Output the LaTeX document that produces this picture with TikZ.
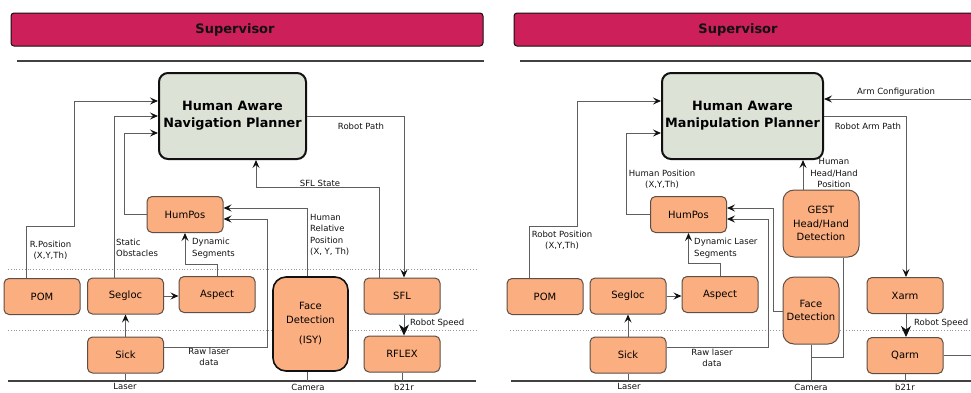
\documentclass[tikz,border=0pt]{standalone}
\usepackage{fontspec}
\setmainfont{DejaVu Sans}
\usetikzlibrary{arrows.meta,positioning,calc}
\definecolor{Ink}{HTML}{111111}
\definecolor{Wire}{HTML}{5E5E5E}
\definecolor{Edge}{HTML}{5E4E44}
\definecolor{SupRed}{HTML}{CD1F59}
\definecolor{PlanGrey}{HTML}{DCE3D6}
\definecolor{ModOrange}{HTML}{FBAE7F}
\definecolor{Dots}{HTML}{9A9A9A}

\begin{document}
\begin{tikzpicture}[
  x=1pt, y=-1pt,
  supbar/.style={draw=Ink, line width=1pt, fill=SupRed, rounded corners=3pt, minimum width=472pt, minimum height=33pt, inner sep=0pt},
  suptext/.style={font=\fontsize{13}{16}\selectfont\bfseries, text=Ink, inner sep=0pt},
  planner/.style={draw=Ink, line width=2pt, fill=PlanGrey, rounded corners=9pt, minimum height=86pt, align=center, inner sep=0pt, font=\fontsize{12.8}{17}\selectfont\bfseries},
  module/.style={draw=Edge, line width=1pt, fill=ModOrange, rounded corners=5pt, minimum width=76pt, minimum height=36pt, inner sep=0pt, align=center, font=\fontsize{10}{13.5}\selectfont},
  tallmod/.style={module, rounded corners=11pt},
  lbl/.style={font=\fontsize{8.5}{11.3}\selectfont, text=Ink, inner sep=0pt, align=left},
  rule/.style={draw=Ink!80, line width=1.2pt},
  sep/.style={draw=Dots, dotted, line width=0.8pt},
  link/.style={draw=Wire, line width=1pt},
  arr/.style={link, -{Stealth[length=8pt, width=7pt, inset=3pt, color=Ink]}},
  bigarr/.style={link, -{Stealth[length=11pt, width=10pt, inset=3.5pt, color=Ink]}}
]
\useasboundingbox (0,0) rectangle (971,392);

% separators
\draw[sep] (8,269) -- (476,269);
\draw[sep] (8,330) -- (476,330);
\draw[sep] (510,330) -- (971,330);
\coordinate (BaseL) at (8,381);
\coordinate (BaseR) at (511,381);
\draw[rule] (BaseL) -- (476,381);
\draw[rule] (BaseR) -- (971,381);

% navigation
\node[supbar] (SupL) at (247,29.5) {};
\node[suptext, xshift=-12pt] (SupLtxt) at (SupL) {Supervisor};
\draw[rule] (17,61) -- (484,61);

\node[planner, minimum width=147pt] (NavPlan) at (232.5,116) {Human Aware\\Navigation Planner};
\node[module] (PomL) at (42,296.5) {POM};
\node[module] (SeglocL) at (125.5,296) {Segloc};
\node[module, below=22pt of SeglocL] (SickL) {Sick};
\node[module] (AspectL) at (217,294.5) {Aspect};
\node[module] (HumPosL) at (185,214.5) {HumPos};
\node[tallmod, draw=Ink, line width=1.6pt, rounded corners=13pt, minimum width=75pt, minimum height=94pt] (FaceL) at (310.5,324) {Face\\Detection\\[7pt](ISY)};
\node[module] (SflL) at (402,296) {SFL};
\node[module, below=21pt of SflL] (RflexL) {RFLEX};

\draw[arr] ([xshift=-16pt]PomL.north) |- (74,226) |- ([yshift=15pt]NavPlan.west);
\draw[arr] ([xshift=-11.5pt]SeglocL.north) |- (NavPlan.west);
\draw[arr] (HumPosL.west) -- ++(-22,0) |- ([yshift=-17pt]NavPlan.west);
\draw[arr] (AspectL.north) -- ++(0,-12) -| (HumPosL.south);
\draw[arr] ([xshift=-3.5pt]FaceL.north) |- ([yshift=6.5pt]HumPosL.east);
\draw[arr] ([yshift=7.5pt]SickL.east) -- ++(103,0) |- ([yshift=-4.5pt]HumPosL.east);
\draw[arr] (SeglocL.east) -- (SeglocL.east -| AspectL.west);
\draw[arr] (SickL.north) -- (SeglocL.south);
\draw[arr] (NavPlan.east) -| ([xshift=2pt]SflL.north);
\draw[arr] ([xshift=-23pt]SflL.north) -- ++(0,-90) -| ([xshift=23.5pt]NavPlan.south);
\draw[bigarr] ([xshift=2pt]SflL.south) -- ([xshift=2pt]SflL.south |- RflexL.north);
\draw[link] (SickL.south) -- (SickL.south |- BaseL);
\draw[link] ([xshift=-3.5pt]FaceL.south) -- ([xshift=-3.5pt]FaceL.south |- BaseL);
\draw[link] (RflexL.south) -- (RflexL.south |- BaseL);

\node[lbl, align=center] (RPosL) at (50.5,250) {R.Position\\(X,Y,Th)};
\node[lbl, anchor=west] (StatObs) at (116,248) {Static\\Obstacles};
\node[lbl, anchor=west] (DynSegL) at (192,248) {Dynamic\\Segments};
\node[lbl, anchor=west] (HumRel) at (310,235) {Human\\Relative\\Position\\(X, Y, Th)};
\node[lbl, align=center] (RawL) at (209,356.5) {Raw laser\\data};
\node[lbl] (SflState) at (320,183) {SFL State};
\node[lbl] (RobPath) at (361,126) {Robot Path};
\node[lbl, anchor=west] (SpeedL) at (410,323) {Robot Speed};
\node[lbl, anchor=north] (LaserL) at (125,383.5) {Laser};
\node[lbl, anchor=north] (CamL) at (308,383.5) {Camera};
\node[lbl, anchor=north] (RobL) at (404,383.5) {b21r};

% manipulation
\node[supbar] (SupR) at (750,29.5) {};
\node[suptext, xshift=-12pt] (SupRtxt) at (SupR) {Supervisor};
\draw[rule] (520,61) -- (971,61);

\node[planner, minimum width=161pt] (ManPlan) at (742.5,116) {Human Aware\\Manipulation Planner};
\node[module] (PomR) at (545,296.5) {POM};
\node[module] (SeglocR) at (628,296) {Segloc};
\node[module, below=22pt of SeglocR] (SickR) {Sick};
\node[module] (AspectR) at (720,294.5) {Aspect};
\node[module] (HumPosR) at (688.5,214.5) {HumPos};
\node[tallmod, minimum height=67pt] (Gest) at (821,223.5) {GEST\\Head/Hand\\Detection};
\node[tallmod, minimum width=56pt, minimum height=67pt] (FaceR) at (811,310.5) {Face\\Detection};
\node[module] (Xarm) at (905,295.5) {Xarm};
\node[module, below=23pt of Xarm] (Qarm) {Qarm};
\coordinate (ArmIn) at (971,99);
\coordinate (QarmOut) at (971,354);
\coordinate (CamJoin) at ($(FaceR.south)+(0,13)$);

\draw[arr] ([xshift=-16pt]PomR.north) |- (577,226) |- ([yshift=15pt]ManPlan.west);
\draw[arr] (HumPosR.west) -- ++(-24,0) |- ([yshift=-17pt]ManPlan.west);
\draw[arr] (AspectR.north) -- ++(0,-13) -| (HumPosR.south);
\draw[arr] ([yshift=-0.5pt]FaceR.west) -- ++(-9,0) |- ([yshift=6.5pt]HumPosR.east);
\draw[arr] ([yshift=7.5pt]SickR.east) -- ++(102,0) |- ([yshift=-4.5pt]HumPosR.east);
\draw[arr] (SeglocR.east) -- (SeglocR.east -| AspectR.west);
\draw[arr] (SickR.north) -- (SeglocR.south);
\draw[arr] ([xshift=-18pt]Gest.north) -- ([xshift=-18pt]Gest.north |- ManPlan.south);
\draw[link] ([xshift=22pt]Gest.south) |- (CamJoin);
\draw[arr] (ArmIn) -- (ArmIn -| ManPlan.east);
\draw[arr] (ManPlan.east) -| ([xshift=1pt]Xarm.north);
\draw[bigarr] ([xshift=1pt]Xarm.south) -- ([xshift=1pt]Xarm.south |- Qarm.north);
\draw[link] (Qarm.east) -- (Qarm.east -| QarmOut);
\draw[link] (SickR.south) -- (SickR.south |- BaseR);
\draw[link] (FaceR.south) -- (FaceR.south |- BaseR);
\draw[link] (Qarm.south) -- (Qarm.south |- BaseR);

\node[lbl, align=center] (RPosR) at (562,240) {Robot Position\\(X,Y,Th)};
\node[lbl, align=center] (HPosR) at (662,179.5) {Human Position\\(X,Y,Th)};
\node[lbl, anchor=west] (DynSegR) at (694,248) {Dynamic Laser\\Segments};
\node[lbl, align=center] (HeadPos) at (834,173) {Human\\Head/Hand\\Position};
\node[lbl, align=center] (RawR) at (712,358) {Raw laser\\data};
\node[lbl] (ArmConf) at (896,92) {Arm Configuration};
\node[lbl] (ArmPath) at (868,126) {Robot Arm Path};
\node[lbl, anchor=west] (SpeedR) at (914,323) {Robot Speed};
\node[lbl, anchor=north] (LaserR) at (629,383.5) {Laser};
\node[lbl, anchor=north] (CamR) at (811,383.5) {Camera};
\node[lbl, anchor=north] (RobR) at (905,383.5) {b21r};
\end{tikzpicture}
\end{document}
